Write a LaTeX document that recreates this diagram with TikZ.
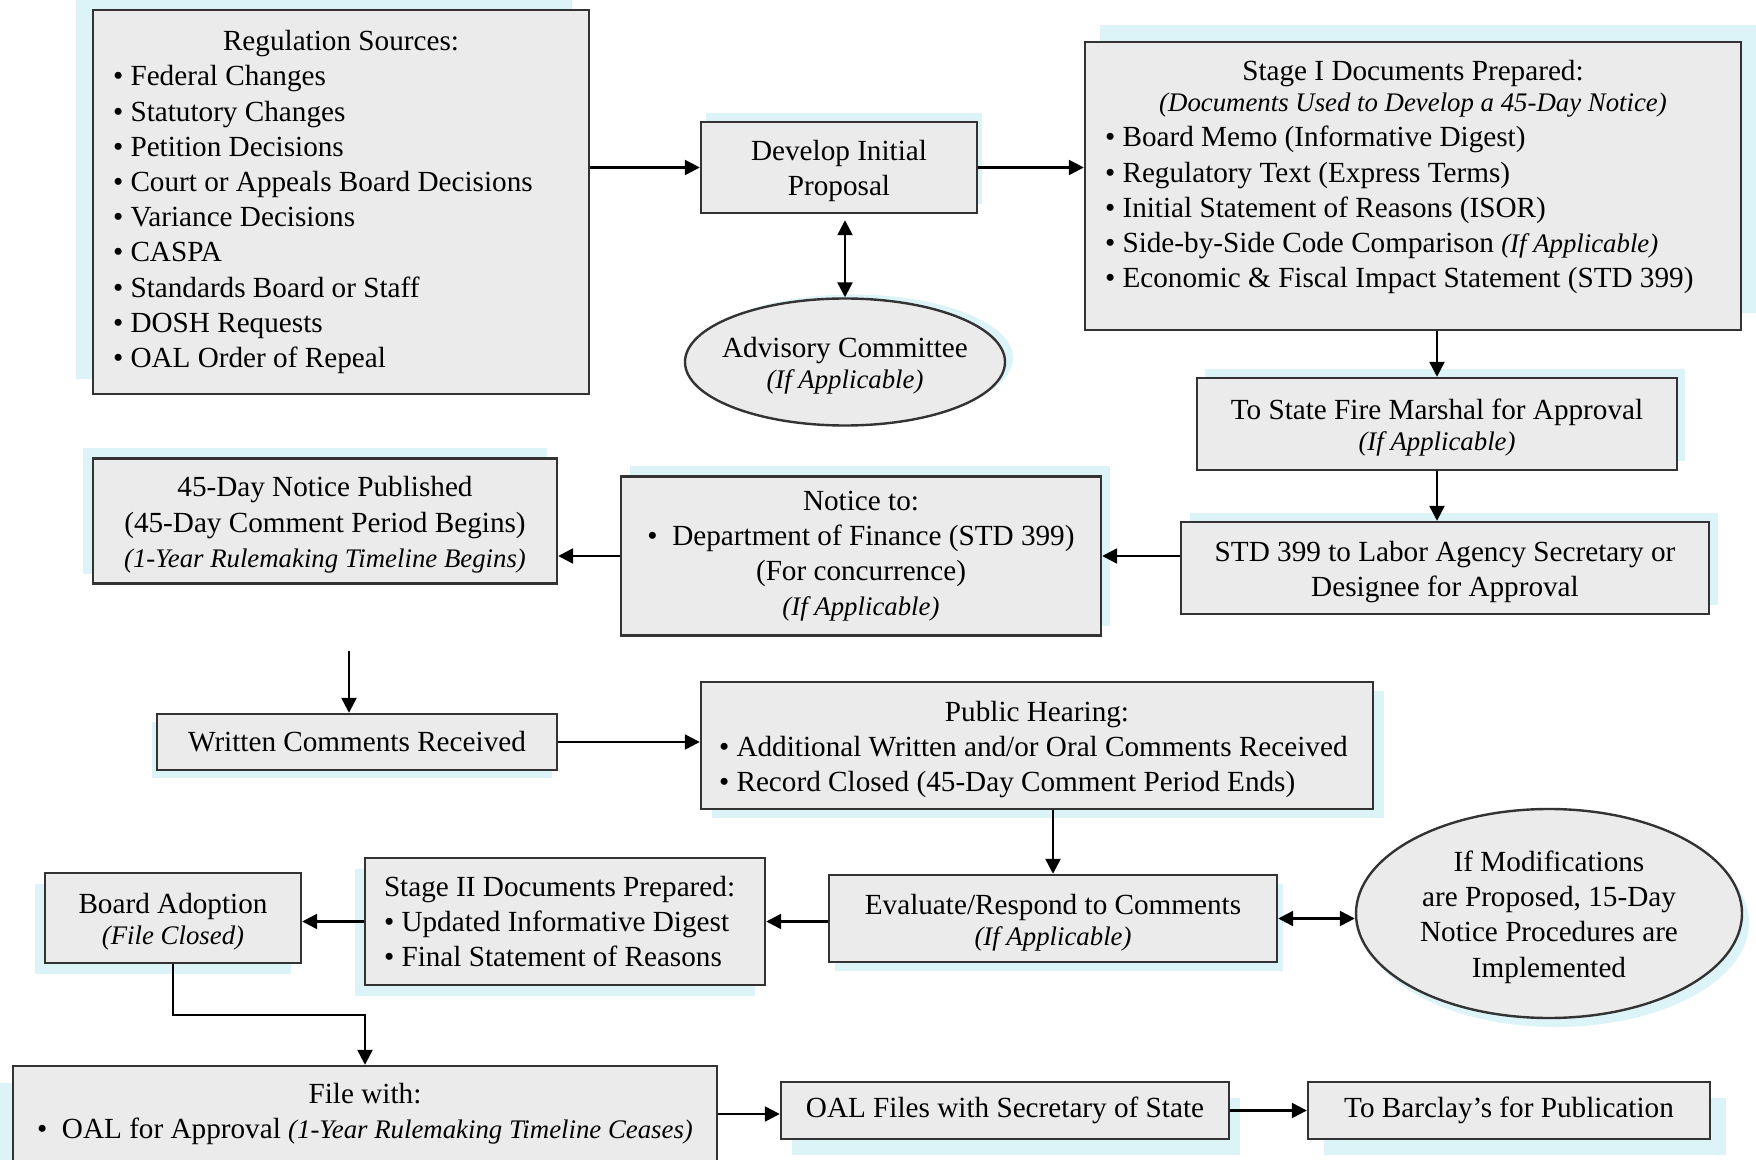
\documentclass[tikz,border=0pt]{standalone}
\usepackage{fontspec}
\setmainfont{Liberation Serif}
\usepackage{tikz}
\usetikzlibrary{shapes,% ellipse nodes
arrows.meta,%           triangle tips
shadows}%               tinted shadow behind the boxes
\definecolor{boxgray}{HTML}{EBEBEB}
\definecolor{boxline}{HTML}{333333}
\definecolor{hazeblue}{HTML}{DCF3F8}
\newcommand{\smallit}[1]{{\fontsize{13.4}{16}\selectfont\itshape #1}}
\newcommand{\topgap}{\rule{0pt}{14pt}}% pushes a text block a little lower
\tikzset{every node/.style={font=\fontsize{14.6}{17.6}\selectfont},
  >={Triangle[length=7.5pt,width=7.5pt]},
  stepbox/.style={draw=boxline, fill=boxgray, line width=1.2pt, inner xsep=10pt, inner ysep=3pt},
  ovalbox/.style={ellipse, draw=boxline, fill=boxgray, line width=1.2pt, inner sep=0pt, align=center},
  boxsize/.style 2 args={minimum width=#1, minimum height=#2},
  haze/.style 2 args={drop shadow={shadow xshift=#1, shadow yshift=#2, fill=hazeblue, opacity=1}}}

\begin{document}
\begin{tikzpicture}[x=0.5pt,y=-0.5pt]
\path[use as bounding box, clip] (0,0) rectangle (1756,1160);
\fill[white] (0,0) rectangle (1756,1160);
% top row
\node[stepbox, boxsize={248pt}{192pt}, text width=228pt, align=flush left, haze={-8.5pt}{7.5pt}] (reg) at (341,202)
  {{\centering Regulation Sources:\par}
   \textbullet~Federal Changes\\
   \textbullet~Statutory Changes\\
   \textbullet~Petition Decisions\\
   \textbullet~Court or Appeals Board Decisions\\
   \textbullet~Variance Decisions\\
   \textbullet~CASPA\\
   \textbullet~Standards Board or Staff\\
   \textbullet~DOSH Requests\\
   \textbullet~OAL Order of Repeal};
\node[stepbox, boxsize={138pt}{45.5pt}, align=center, haze={2.5pt}{4.5pt}] (dev) at (839,167.5)
  {\topgap Develop Initial\\Proposal};
\node[ovalbox, inner xsep=-5pt, boxsize={160pt}{63.5pt}, haze={4pt}{2pt}] (adv) at (845,362)
  {\topgap Advisory Committee\\[-2pt] \smallit{(If Applicable)}};
\node[stepbox, boxsize={328pt}{144pt}, text width=308pt, align=flush left, haze={7.5pt}{8.5pt}] (stage1) at (1413,186)
  {{\centering Stage I Documents Prepared:\\[-2pt] \smallit{(Documents Used to Develop a 45-Day Notice)}\par}
   \textbullet~Board Memo (Informative Digest)\\
   \textbullet~Regulatory Text (Express Terms)\\
   \textbullet~Initial Statement of Reasons (ISOR)\\
   \textbullet~Side-by-Side Code Comparison \smallit{(If Applicable)}\\
   \textbullet~Economic \& Fiscal Impact Statement (STD 399)\par\kern9pt};
% approval chain
\node[stepbox, boxsize={240pt}{46pt}, align=center, haze={4pt}{4.5pt}] (fire) at (1437,424)
  {\topgap To State Fire Marshal for Approval\\[-2pt] \smallit{(If Applicable)}};
\node[stepbox, boxsize={264pt}{46pt}, align=center, haze={4.5pt}{4.5pt}] (std) at (1445,568)
  {\topgap STD 399 to Labor Agency Secretary or\\Designee for Approval};
\node[stepbox, boxsize={240pt}{79.5pt}, align=center, haze={4.5pt}{5pt}] (notice) at (861,556)
  {Notice to:\\ \textbullet~~Department of Finance (STD 399)\\ (For concurrence)\\ \smallit{(If Applicable)}};
\node[stepbox, boxsize={232pt}{62.5pt}, align=center, haze={-5pt}{5pt}] (pub) at (325,521)
  {\topgap 45-Day Notice Published\\ (45-Day Comment Period Begins)\\ \smallit{(1-Year Rulemaking Timeline Begins)}};
% comments
\node[stepbox, boxsize={200pt}{28pt}, haze={-2.5pt}{-4pt}] (written) at (357,742)
  {Written Comments Received};
\node[stepbox, boxsize={336pt}{63.5pt}, inner xsep=9pt, text width=318pt, align=flush left, haze={5.5pt}{-4.5pt}] (hear) at (1037,745.5)
  {{\centering\topgap Public Hearing:\par}
   \textbullet~Additional Written and/or Oral Comments Received\\
   \textbullet~Record Closed (45-Day Comment Period Ends)};
\node[stepbox, boxsize={224pt}{43.5pt}, align=center, haze={3pt}{-4.5pt}] (eval) at (1053,918.5)
  {\topgap Evaluate/Respond to Comments\\[-2pt] \smallit{(If Applicable)}};
\node[ovalbox, boxsize={193pt}{104.5pt}, haze={3.5pt}{-4.5pt}] (mods) at (1549,913.5)
  {\topgap If Modifications\\are Proposed, 15-Day\\Notice Procedures are\\Implemented};
\node[stepbox, boxsize={200pt}{63.5pt}, inner xsep=9.5pt, text width=181pt, align=flush left, haze={-5pt}{-5.5pt}] (stage2) at (565,921.5)
  {Stage II Documents Prepared:\\
   \textbullet~Updated Informative Digest\\
   \textbullet~Final Statement of Reasons};
\node[stepbox, boxsize={128pt}{45pt}, align=center, haze={-5pt}{-5.5pt}] (adopt) at (173,918)
  {\topgap Board Adoption\\[-2pt] \smallit{(File Closed)}};
% filing
\node[stepbox, boxsize={352pt}{48pt}, align=center, haze={-6.5pt}{-8.5pt}] (filewith) at (365,1114)
  {File with:\\ \textbullet~~OAL for Approval \smallit{(1-Year Rulemaking Timeline Ceases)}};
\node[stepbox, boxsize={224pt}{28.5pt}, haze={5.5pt}{-8pt}] (oal) at (1005,1110.5)
  {OAL Files with Secretary of State};
\node[stepbox, boxsize={201pt}{28.5pt}, haze={8pt}{-8pt}] (barclay) at (1509,1110.5)
  {To Barclay’s for Publication};
\coordinate (drop) at (349,651);
\begin{scope}[->,line width=1.2pt]
\draw (dev.west -| reg.east) -- (dev.west);
\draw (dev.east) -- (dev.east -| stage1.west);
\draw[<->, shorten <=3pt] (adv.north |- dev.south) -- (adv.north);
\draw (fire.north |- stage1.south) -- (fire.north);
\draw (fire.south) -- (fire.south |- std.north);
\draw (std.west |- notice.east) -- (notice.east);
\draw (notice.west) -- (notice.west -| pub.east);
\draw (drop) -- (drop |- written.north);
\draw (written.east) -- (written.east -| hear.west);
\draw (eval.north |- hear.south) -- (eval.north);
\draw (eval.west |- stage2.east) -- (stage2.east);
\draw[<->] (eval.east) -- (eval.east -| mods.west);
\draw (stage2.west) -- (stage2.west -| adopt.east);
\draw (adopt.south) -- ++(0,51) -| (filewith.north);
\draw (filewith.east) -- (filewith.east -| oal.west);
\draw (oal.east) -- (barclay.west);
\end{scope}
\end{tikzpicture}
\end{document}
